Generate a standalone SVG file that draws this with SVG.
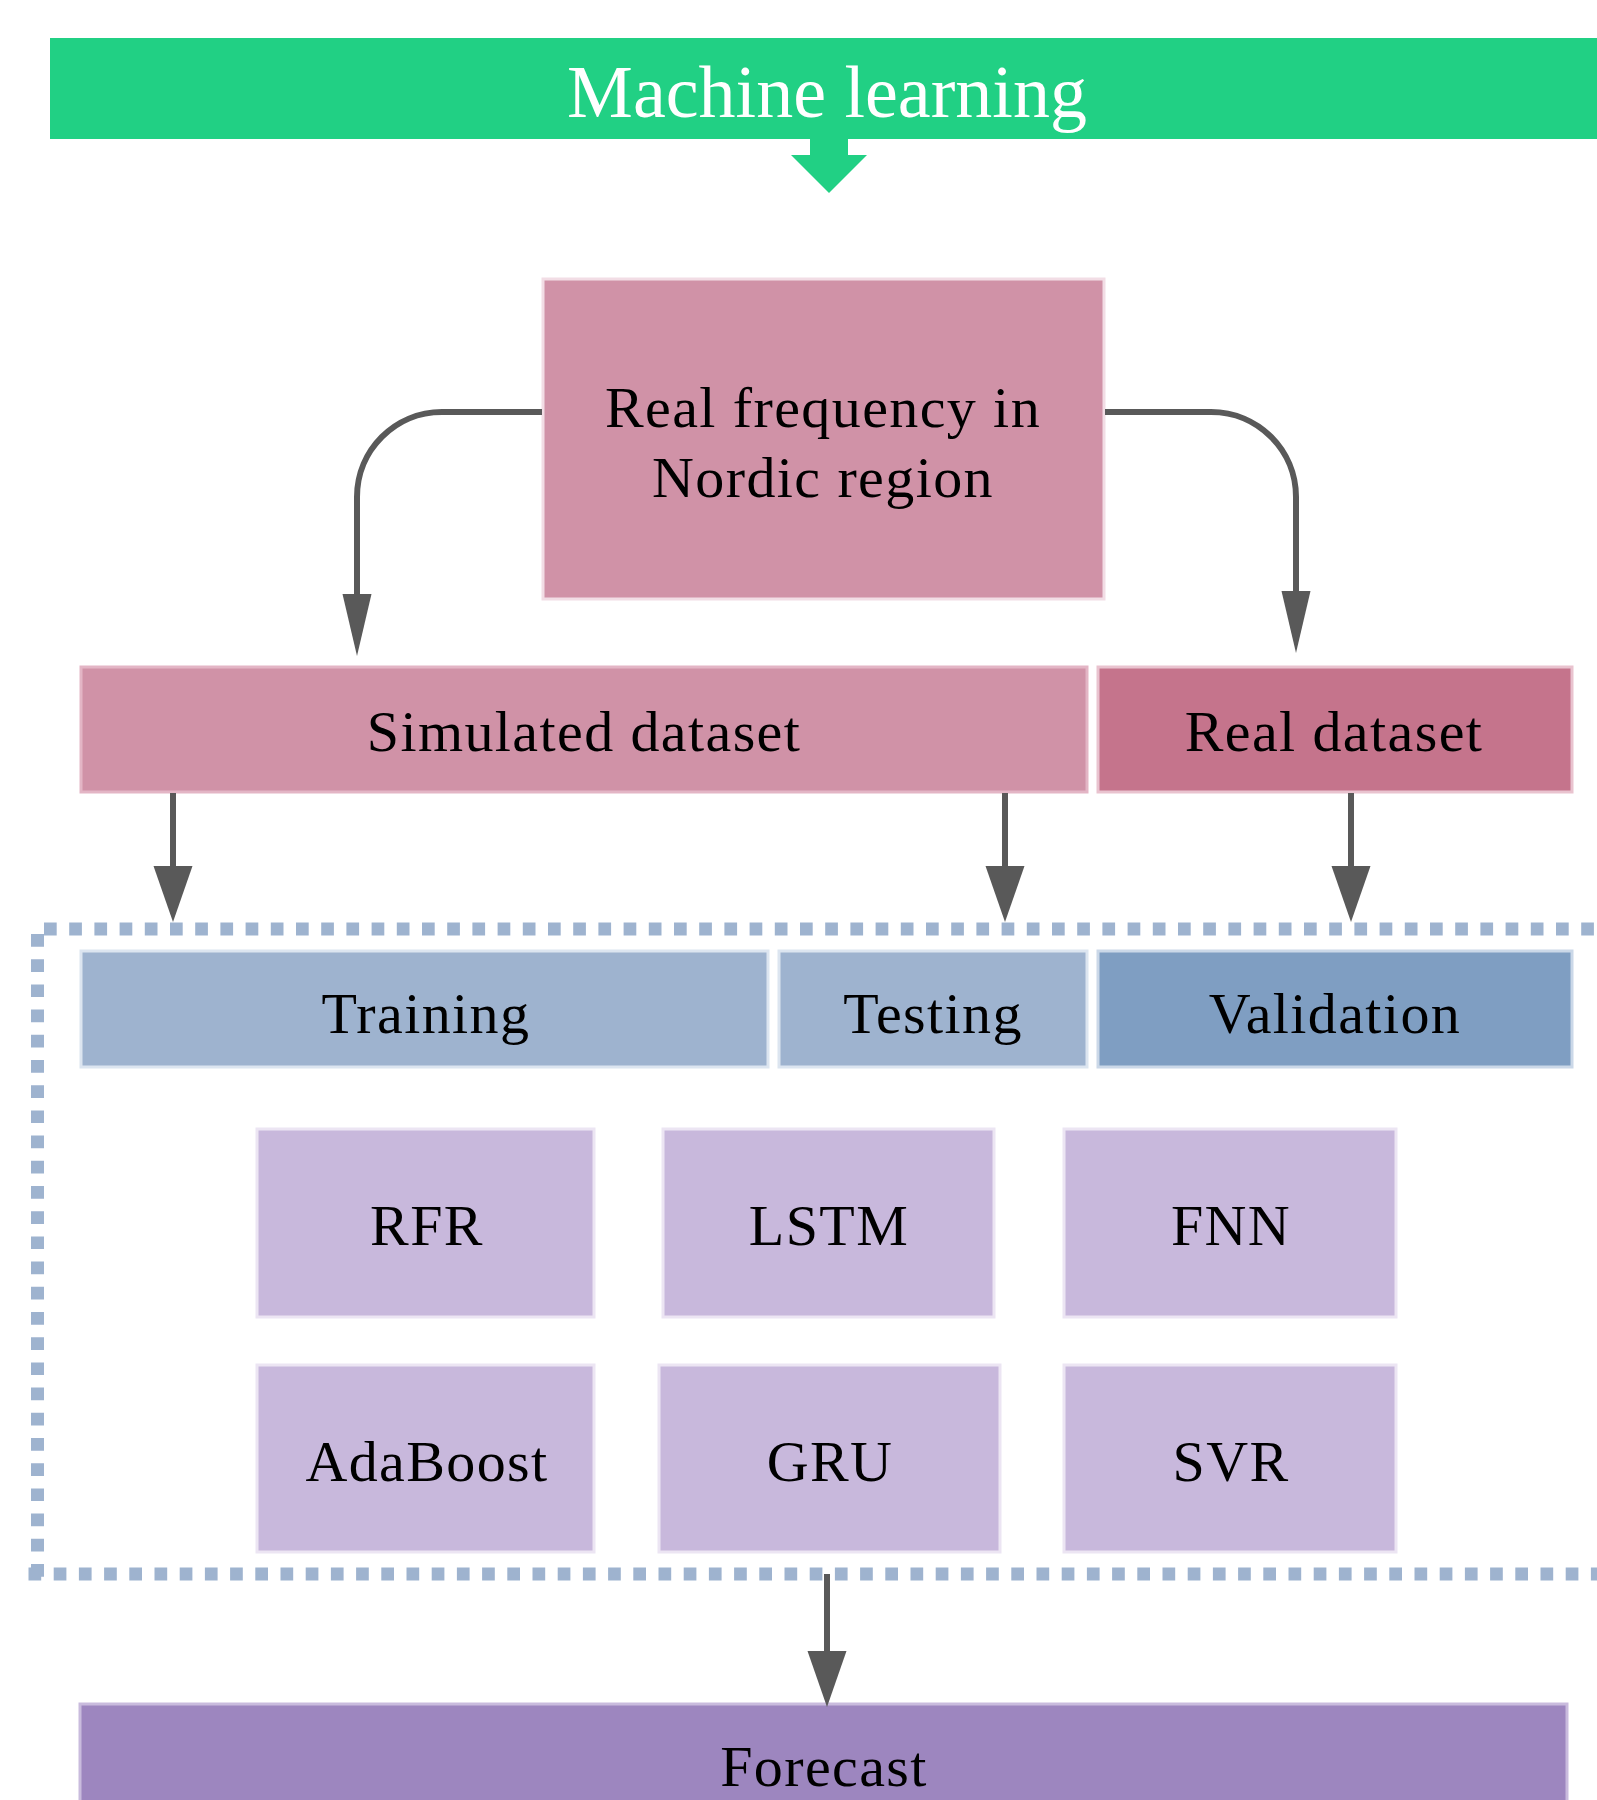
<svg xmlns="http://www.w3.org/2000/svg" width="1597" height="1800" viewBox="0 0 1597 1800">
<style>
text{font-family:"Liberation Serif","Times New Roman",serif;text-anchor:middle;fill:#000;font-size:58px;letter-spacing:1.4px}
.title{fill:#fff;font-size:74px;letter-spacing:0}
.pink{fill:#D092A7;stroke:#F2DDE5;stroke-width:3}
.rose{fill:#C5748C;stroke:#E9C3CF;stroke-width:3}
.blue{fill:#9EB3CF;stroke:#DCE5F0;stroke-width:3}
.blue2{fill:#7F9EC2;stroke:#CBD8E8;stroke-width:3}
.lav{fill:#C8B8DC;stroke:#ECE5F3;stroke-width:3}
.purp{fill:#9D86BF;stroke:#C9BBDD;stroke-width:3}
.conn{fill:none;stroke:#595959;stroke-width:6}
.dash{fill:none;stroke:#9EB3CF;stroke-width:13;stroke-dasharray:12.7 12.5}
</style>
<defs>
<marker id="big" markerUnits="userSpaceOnUse" markerWidth="56" markerHeight="40" viewBox="0 0 56 40" refX="26" refY="20" orient="auto">
<path d="M0,0.5 L56,20 L0,39.5 z" fill="#595959"/>
</marker>
<marker id="slim" markerUnits="userSpaceOnUse" markerWidth="62" markerHeight="30" viewBox="0 0 62 30" refX="32" refY="15" orient="auto">
<path d="M0,0.5 L62,15 L0,29.5 z" fill="#595959"/>
</marker>
</defs>
<rect width="1597" height="1800" fill="#fff"/>

<g id="container">
<path class="dash" d="M44,929 H1610"/>
<path class="dash" d="M37.5,934 V1580"/>
<path class="dash" d="M28.5,1574 H1610"/>
</g>

<g id="machine-learning">
<rect x="50" y="38" width="1560" height="101" fill="#21D084"/>
<text class="title" x="827" y="117">Machine learning</text>
</g>

<g id="real-frequency">
<rect class="pink" x="543" y="279" width="561" height="320"/>
<text x="823" y="427">Real frequency in</text>
<text x="823" y="497">Nordic region</text>
</g>

<g id="simulated-dataset">
<rect class="pink" x="81" y="667" width="1006" height="125" style="stroke:#E3B5C5"/>
<text x="584" y="751">Simulated dataset</text>
</g>

<g id="real-dataset">
<rect class="rose" x="1098" y="667" width="474" height="125"/>
<text x="1334" y="751">Real dataset</text>
</g>

<g id="training">
<rect class="blue" x="81" y="951" width="687" height="116"/>
<text x="426" y="1033">Training</text>
</g>
<g id="testing">
<rect class="blue" x="779" y="951" width="308" height="116"/>
<text x="933" y="1033">Testing</text>
</g>
<g id="validation">
<rect class="blue2" x="1098" y="951" width="474" height="116"/>
<text x="1335" y="1033">Validation</text>
</g>

<g id="rfr">
<rect class="lav" x="257" y="1129" width="337" height="188"/>
<text x="427" y="1245">RFR</text>
</g>
<g id="lstm">
<rect class="lav" x="663" y="1129" width="331" height="188"/>
<text x="829" y="1245">LSTM</text>
</g>
<g id="fnn">
<rect class="lav" x="1064" y="1129" width="332" height="188"/>
<text x="1231" y="1245">FNN</text>
</g>
<g id="adaboost">
<rect class="lav" x="257" y="1365" width="337" height="187"/>
<text x="427" y="1481">AdaBoost</text>
</g>
<g id="gru">
<rect class="lav" x="659" y="1365" width="341" height="187"/>
<text x="830" y="1481">GRU</text>
</g>
<g id="svr">
<rect class="lav" x="1064" y="1365" width="332" height="187"/>
<text x="1231" y="1481">SVR</text>
</g>

<g id="forecast">
<rect class="purp" x="80" y="1704" width="1487" height="110"/>
<text x="824" y="1786">Forecast</text>
</g>

<g id="connectors">
<path d="M810,139 H848 V155 H867 L829,193 L791,155 H810 z" fill="#21D084"/>
<path class="conn" d="M542,412 H442 C395,412 357,450 357,497 V626" marker-end="url(#slim)"/>
<path class="conn" d="M1105,412 H1211 C1258,412 1296,450 1296,497 V623" marker-end="url(#slim)"/>
<path class="conn" d="M173,793 V892" marker-end="url(#big)"/>
<path class="conn" d="M1005,793 V892" marker-end="url(#big)"/>
<path class="conn" d="M1351,793 V892" marker-end="url(#big)"/>
<path class="conn" d="M827,1574 V1677" marker-end="url(#big)"/>
</g>
</svg>
